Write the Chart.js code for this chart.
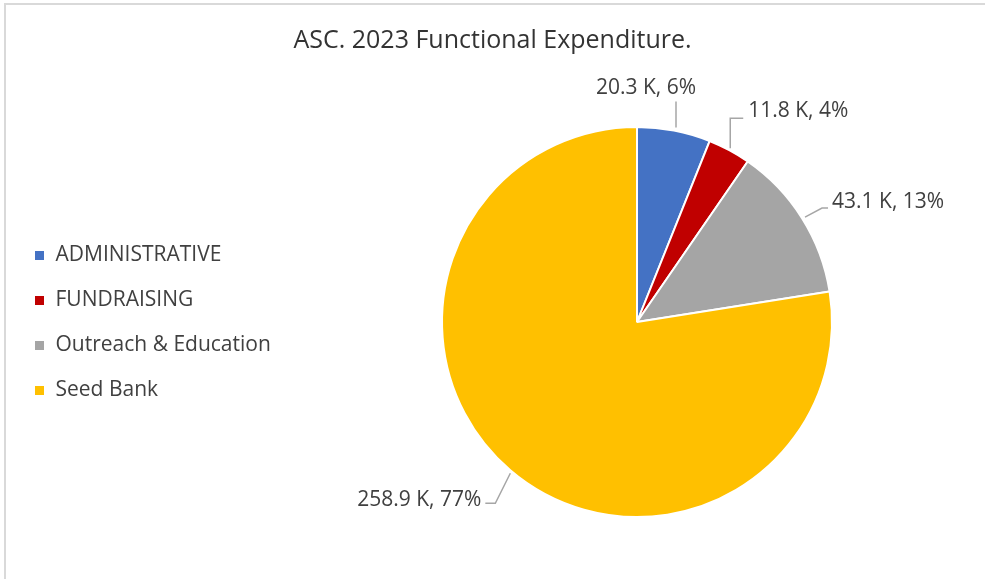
<!DOCTYPE html>
<html>
<head>
<meta charset="utf-8">
<script src="https://cdn.jsdelivr.net/npm/chart.js@4.4.1/dist/chart.umd.min.js"></script>
<style>
  html, body { margin: 0; padding: 0; background: #fff; overflow: hidden; }
  #frame {
    position: absolute; left: 4px; top: 3px; width: 1000px; height: 600px;
    border-left: 2px solid #d9d9d9; border-top: 2px solid #d9d9d9;
  }
  #pieChart { position: absolute; left: 0; top: 0; }
</style>
</head>
<body>
<div id="frame"></div>
<canvas id="pieChart" width="985" height="579"></canvas>
<script>
const categories = ["ADMINISTRATIVE", "FUNDRAISING", "Outreach & Education", "Seed Bank"];
const expenditureK = [20.3, 11.8, 43.1, 258.9];
const sliceColors = ["#4472C4", "#C00000", "#A5A5A5", "#FFC000"];

// where each data label sits, relative to the slice's outer edge at its mid angle
const labelLayout = [
  { path: [[2, -3], [2, -29]], text: [-28, -43], align: "center" },
  { path: [[1, -2], [1, -32], [14, -32]], text: [19, -39], align: "left" },
  { path: [[3, -1], [20, -10], [26, -10]], text: [30, -16], align: "left" },
  { path: [[0, 3], [-15, 33], [-25, 33]], text: [-29, 30], align: "right" },
];

document.addEventListener("DOMContentLoaded", function () {
  const total = expenditureK.reduce((a, b) => a + b, 0);

  const dataLabels = {
    id: "dataLabels",
    afterDatasetsDraw(chart) {
      const ctx = chart.ctx;
      const arcs = chart.getDatasetMeta(0).data;
      ctx.save();
      ctx.font = '21px "Open Sans"';
      ctx.fillStyle = "#404040";
      ctx.strokeStyle = "#a6a6a6";
      ctx.lineWidth = 1.5;
      ctx.textBaseline = "middle";
      arcs.forEach((arc, i) => {
        const p = arc.getProps(["x", "y", "startAngle", "endAngle", "outerRadius"], true);
        const mid = (p.startAngle + p.endAngle) / 2;
        const ex = p.x + Math.cos(mid) * p.outerRadius;
        const ey = p.y + Math.sin(mid) * p.outerRadius;
        const lay = labelLayout[i];
        ctx.beginPath();
        lay.path.forEach((pt, j) => {
          if (j === 0) ctx.moveTo(ex + pt[0], ey + pt[1]);
          else ctx.lineTo(ex + pt[0], ey + pt[1]);
        });
        ctx.stroke();
        const pct = Math.round((expenditureK[i] / total) * 100);
        ctx.textAlign = lay.align;
        ctx.fillText(expenditureK[i].toFixed(1) + " K, " + pct + "%", ex + lay.text[0], ey + lay.text[1]);
      });
      ctx.restore();
    },
  };

  // legend keeps a fixed width so the pie sits right of it, and is moved down a bit
  const legendPlace = {
    id: "legendPlace",
    afterInit(chart) {
      const lg = chart.legend;
      const fit = lg.fit;
      lg.fit = function () {
        fit.call(this);
        this.width = 289;
      };
    },
    afterLayout(chart) {
      chart.legend.top += 51;
      chart.legend.bottom += 51;
    },
  };

  const dataPie = {
    labels: categories,
    datasets: [
      {
        label: "Functional Expenditure",
        data: expenditureK,
        backgroundColor: sliceColors,
        borderColor: "#ffffff",
        borderWidth: 2,
      },
    ],
  };

  const configPie = {
    type: "pie",
    data: dataPie,
    options: {
      responsive: false,
      animation: false,
      layout: {
        padding: { top: 26, bottom: 61, left: 10, right: 10 },
      },
      plugins: {
        title: {
          display: true,
          text: "ASC. 2023 Functional Expenditure.",
          color: "#333333",
          font: { family: "Open Sans", size: 25, weight: "normal" },
          padding: { top: 0, bottom: 70 },
        },
        legend: {
          position: "left",
          labels: {
            color: "#404040",
            font: { family: "Open Sans", size: 21 },
            boxWidth: 11,
            boxHeight: 11,
            padding: 24,
          },
        },
        tooltip: { enabled: false },
      },
    },
    plugins: [dataLabels, legendPlace],
  };

  new Chart(document.getElementById("pieChart"), configPie);
});
</script>
</body>
</html>
